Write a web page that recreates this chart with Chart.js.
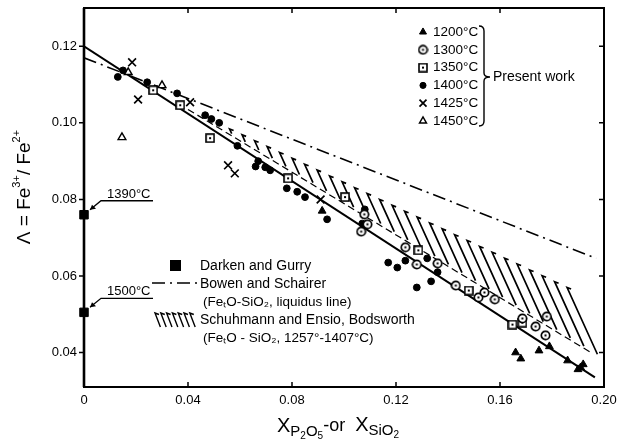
<!DOCTYPE html>
<html>
<head>
<meta charset="utf-8">
<script src="https://cdn.jsdelivr.net/npm/chart.js@4/dist/chart.umd.min.js"></script>
<style>
  body { margin: 0; background: #fff; }
  canvas { display: block; }
</style>
</head>
<body>
<canvas id="chart" width="625" height="444"></canvas>
<script>
// axis ticks
const xTicks = [0, 0.04, 0.08, 0.12, 0.16, 0.20]
const xTickLabels = ['0', '0.04', '0.08', '0.12', '0.16', '0.20']
const yTicks = [0.04, 0.06, 0.08, 0.10, 0.12]
const yTickLabels = ['0.04', '0.06', '0.08', '0.10', '0.12']

// present work, by temperature
const x1200 = [0.0916, 0.166, 0.168, 0.175, 0.179, 0.186, 0.190, 0.191, 0.192]
const y1200 = [0.0770, 0.0400, 0.0384, 0.0405, 0.0416, 0.0379, 0.0356, 0.0361, 0.0369]

const x1300 = [0.1078, 0.109, 0.1066, 0.1236, 0.128, 0.136, 0.143, 0.1517, 0.154, 0.158, 0.1686, 0.1737, 0.178, 0.1775]
const y1300 = [0.0761, 0.0735, 0.0716, 0.0675, 0.0630, 0.0633, 0.0575, 0.0544, 0.0557, 0.0539, 0.0489, 0.0468, 0.0494, 0.0445]

const x1350 = [0.0266, 0.037, 0.0485, 0.0785, 0.1004, 0.1286, 0.148, 0.1648, 0.1686]
const y1350 = [0.1085, 0.1046, 0.0960, 0.0855, 0.0806, 0.0667, 0.0562, 0.0473, 0.0478]

const x1400 = [0.013, 0.015, 0.0243, 0.0358, 0.0466, 0.049, 0.052, 0.059, 0.066, 0.067, 0.0697, 0.0716, 0.078, 0.082, 0.085, 0.0935, 0.108, 0.107, 0.117, 0.1205, 0.1236, 0.128, 0.132, 0.1335, 0.136]
const y1400 = [0.1120, 0.1137, 0.1106, 0.1077, 0.1020, 0.1010, 0.1000, 0.0940, 0.0886, 0.0900, 0.0884, 0.0876, 0.0829, 0.0820, 0.0806, 0.0748, 0.0774, 0.0737, 0.0635, 0.0622, 0.0640, 0.0570, 0.0646, 0.0586, 0.0610]

const x1425 = [0.0185, 0.0208, 0.0408, 0.0554, 0.058, 0.091]
const y1425 = [0.1158, 0.1061, 0.1054, 0.0889, 0.0868, 0.0800]

const x1450 = [0.0146, 0.017, 0.030]
const y1450 = [0.0962, 0.1132, 0.1098]

// Darken and Gurry (FeO, no P2O5 / SiO2)
const xDarken = [0, 0]
const yDarken = [0.0760, 0.0505]
const darkenTemps = ['1390°C', '1500°C']

// fitted line through present work
const xFit = [0, 0.1965]
const yFit = [0.120, 0.0335]

// Bowen and Schairer, liquidus line
const xBowen = [0, 0.197]
const yBowen = [0.117, 0.0646]

// Schuhmann and Ensio / Bodsworth band
const xBandTop = [0.040, 0.192]
const yBandTop = [0.1035, 0.055]
const xBandLow = [0.040, 0.195]
const yBandLow = [0.1035, 0.040]

const pts = (xs, ys) => xs.map((x, i) => ({ x: x, y: ys[i] }))

const FONT = '"Liberation Sans", Arial, sans-serif'

// circle / square with a dot in the middle
function ringDot() {
	const c = document.createElement('canvas')
	c.width = 11
	c.height = 11
	const g = c.getContext('2d')
	g.fillStyle = '#fff'
	g.strokeStyle = '#000'
	g.lineWidth = 1.7
	g.beginPath()
	g.arc(5.5, 5.5, 4.2, 0, Math.PI * 2)
	g.fill()
	g.stroke()
	g.fillStyle = '#000'
	g.fillRect(4.5, 4.5, 2, 2)
	return c
}

function boxDot() {
	const c = document.createElement('canvas')
	c.width = 10
	c.height = 10
	const g = c.getContext('2d')
	g.fillStyle = '#fff'
	g.fillRect(1, 1, 8, 8)
	g.strokeStyle = '#000'
	g.lineWidth = 1.6
	g.strokeRect(1, 1, 8, 8)
	g.fillStyle = '#000'
	g.fillRect(4, 4, 2, 2)
	return c
}

const ring = ringDot()
const box = boxDot()

const series = [
	{ label: '1200°C', style: { pointStyle: 'triangle', radius: 4.5, borderWidth: 1, fill: '#000' } },
	{ label: '1300°C', style: { pointStyle: ring, radius: 5, borderWidth: 1, fill: '#fff' } },
	{ label: '1350°C', style: { pointStyle: box, radius: 5, borderWidth: 1, fill: '#fff' } },
	{ label: '1400°C', style: { pointStyle: 'circle', radius: 3.4, borderWidth: 1, fill: '#000' } },
	{ label: '1425°C', style: { pointStyle: 'crossRot', radius: 5.5, borderWidth: 1.7, fill: '#000' } },
	{ label: '1450°C', style: { pointStyle: 'triangle', radius: 4.5, borderWidth: 1.4, fill: '#fff' } },
]

function markSet(data, s) {
	return {
		data: data,
		pointStyle: s.style.pointStyle,
		pointRadius: s.style.radius,
		pointBorderWidth: s.style.borderWidth,
		pointBackgroundColor: s.style.fill,
		pointBorderColor: '#000',
		showLine: false,
		order: 0,
	}
}

const datasets = [
	{ data: pts(xBandLow, yBandLow), showLine: true, pointRadius: 0, borderWidth: 1.2, borderColor: '#000', borderDash: [7, 4], fill: false, order: 5 },
	{ data: pts(xBowen, yBowen), showLine: true, pointRadius: 0, borderWidth: 1.6, borderColor: '#000', borderDash: [13, 5, 2, 5], fill: false, order: 4 },
	{ data: pts(xFit, yFit), showLine: true, pointRadius: 0, borderWidth: 2, borderColor: '#000', fill: false, order: 3 },
	markSet(pts(x1200, y1200), series[0]),
	markSet(pts(x1300, y1300), series[1]),
	markSet(pts(x1350, y1350), series[2]),
	markSet(pts(x1400, y1400), series[3]),
	markSet(pts(x1425, y1425), series[4]),
	markSet(pts(x1450, y1450), series[5]),
	{ data: pts(xDarken, yDarken), pointStyle: 'rect', pointRadius: 6, pointBackgroundColor: '#000', pointBorderColor: '#000', showLine: false, clip: false, order: 0 },
]

// hatch strokes "\" hanging from an upper edge down to a lower edge (both as [x1, y1, x2, y2] in pixels)
function hatchBetween(ctx, up, low, x0, x1, step, slope, gapLow) {
	const k1 = (up[3] - up[1]) / (up[2] - up[0])
	const k2 = (low[3] - low[1]) / (low[2] - low[0])
	for (let x = x0; x <= x1; x += step) {
		const px = x
		const py = up[1] + k1 * (x - up[0])
		// where the stroke meets the lower edge
		const qx = (low[1] - k2 * low[0] - py + slope * px) / (slope - k2)
		const ex = qx - gapLow / slope
		const ey = py + slope * (ex - px)
		if (ey <= py) continue
		ctx.beginPath()
		ctx.moveTo(px + 4, py + 1.5)
		ctx.lineTo(px, py)
		ctx.lineTo(ex, ey)
		ctx.stroke()
	}
}

const hatchBand = {
	id: 'hatchBand',
	beforeDatasetsDraw(chart) {
		const ctx = chart.ctx
		const xs = chart.scales.x
		const ys = chart.scales.y
		const up = [xs.getPixelForValue(xBandTop[0]), ys.getPixelForValue(yBandTop[0]), xs.getPixelForValue(xBandTop[1]), ys.getPixelForValue(yBandTop[1])]
		const low = [xs.getPixelForValue(xBandLow[0]), ys.getPixelForValue(yBandLow[0]), xs.getPixelForValue(xBandLow[1]), ys.getPixelForValue(yBandLow[1])]
		ctx.save()
		ctx.strokeStyle = '#000'
		ctx.lineWidth = 1.7
		hatchBetween(ctx, up, low, xs.getPixelForValue(0.056), xs.getPixelForValue(0.186), 12.5, 2.2, 3)
		ctx.restore()
	},
}

// text pieces drawn one after another with their own size and shift
function drawRuns(ctx, runs, x, y) {
	for (const r of runs) {
		ctx.font = r.size + 'px ' + FONT
		ctx.fillText(r.t, x, y + (r.dy || 0))
		x += ctx.measureText(r.t).width
	}
	return x
}

function runsWidth(ctx, runs) {
	let w = 0
	for (const r of runs) {
		ctx.font = r.size + 'px ' + FONT
		w += ctx.measureText(r.t).width
	}
	return w
}

const decor = {
	id: 'decor',
	afterDraw(chart) {
		const ctx = chart.ctx
		const a = chart.chartArea
		const xs = chart.scales.x
		const ys = chart.scales.y
		ctx.save()
		ctx.strokeStyle = '#000'
		ctx.fillStyle = '#000'

		// frame
		ctx.lineWidth = 2
		ctx.strokeRect(a.left, a.top, a.right - a.left, a.bottom - a.top)
		ctx.lineWidth = 2.6
		ctx.beginPath()
		ctx.moveTo(a.left, a.top)
		ctx.lineTo(a.left, a.bottom)
		ctx.stroke()

		// tick marks
		ctx.lineWidth = 1.5
		ctx.beginPath()
		xTicks.slice(1, -1).forEach((v) => {
			const px = xs.getPixelForValue(v)
			ctx.moveTo(px, a.bottom)
			ctx.lineTo(px, a.bottom - 5)
			ctx.moveTo(px, a.top)
			ctx.lineTo(px, a.top + 5)
		})
		yTicks.forEach((v) => {
			const py = ys.getPixelForValue(v)
			ctx.moveTo(a.left, py)
			ctx.lineTo(a.left - 5, py)
			ctx.moveTo(a.right, py)
			ctx.lineTo(a.right - 5, py)
		})
		ctx.stroke()

		// y axis title
		ctx.save()
		ctx.translate(25, 187)
		ctx.rotate(-Math.PI / 2)
		const yRuns = [
			{ t: 'Λ = Fe', size: 19 },
			{ t: '3+', size: 11, dy: -8 },
			{ t: '/ Fe', size: 19 },
			{ t: '2+', size: 11, dy: -8 },
		]
		ctx.textBaseline = 'middle'
		drawRuns(ctx, yRuns, -runsWidth(ctx, yRuns) / 2, 0)
		ctx.restore()

		// x axis title
		ctx.textBaseline = 'alphabetic'
		drawRuns(ctx, [
			{ t: 'X', size: 20 },
			{ t: 'P', size: 15, dy: 4 },
			{ t: '2', size: 10, dy: 7 },
			{ t: 'O', size: 15, dy: 4 },
			{ t: '5', size: 10, dy: 7 },
			{ t: '-or  ', size: 18, dy: -1 },
			{ t: 'X', size: 20, dy: -1 },
			{ t: 'SiO', size: 15, dy: 3 },
			{ t: '2', size: 10, dy: 6 },
		], 277, 432)

		// temperature notes on the Darken and Gurry points
		ctx.lineWidth = 1.3
		xDarken.forEach((v, i) => {
			const px = xs.getPixelForValue(v) + 6
			const py = ys.getPixelForValue(yDarken[i]) - 5
			const ux = px + 11
			const uy = py - 9
			ctx.beginPath()
			ctx.moveTo(px, py)
			ctx.lineTo(ux, uy)
			ctx.lineTo(ux + 52, uy)
			ctx.stroke()
			ctx.beginPath()
			ctx.moveTo(px, py)
			ctx.lineTo(px + 6, py - 1)
			ctx.lineTo(px + 2, py - 5)
			ctx.closePath()
			ctx.fill()
			ctx.font = '13px ' + FONT
			ctx.textBaseline = 'alphabetic'
			ctx.fillText(darkenTemps[i], ux + 6, uy - 3)
		})

		// present work key
		ctx.textBaseline = 'middle'
		series.forEach((s, i) => {
			const ly = 32 + i * 17.8
			ctx.fillStyle = s.style.fill
			ctx.strokeStyle = '#000'
			ctx.lineWidth = s.style.borderWidth
			Chart.helpers.drawPoint(ctx, { pointStyle: s.style.pointStyle, radius: s.style.radius * 0.9, borderWidth: s.style.borderWidth, rotation: 0 }, 423, ly)
			ctx.fillStyle = '#000'
			ctx.font = '13.5px ' + FONT
			ctx.fillText(s.label, 433, ly)
		})
		// brace
		ctx.lineWidth = 1.4
		ctx.beginPath()
		ctx.moveTo(479, 26)
		ctx.quadraticCurveTo(484, 26, 484, 31)
		ctx.lineTo(484, 73)
		ctx.quadraticCurveTo(484, 77, 490, 77)
		ctx.moveTo(484, 81)
		ctx.quadraticCurveTo(484, 77, 490, 77)
		ctx.moveTo(484, 81)
		ctx.lineTo(484, 121)
		ctx.quadraticCurveTo(484, 126, 479, 126)
		ctx.stroke()
		ctx.font = '14px ' + FONT
		ctx.fillText('Present work', 493, 77)

		// other sources key
		ctx.fillRect(170, 260, 11, 11)
		ctx.lineWidth = 1.6
		ctx.setLineDash([13, 5, 2, 5])
		ctx.beginPath()
		ctx.moveTo(152, 283)
		ctx.lineTo(200, 283)
		ctx.stroke()
		ctx.setLineDash([])
		ctx.lineWidth = 1.4
		hatchBetween(ctx, [153, 313, 199, 313], [150, 327, 199, 327], 155, 195, 5.8, 2.6, 0)
		ctx.font = '14px ' + FONT
		ctx.fillText('Darken and Gurry', 200, 266)
		ctx.fillText('Bowen and Schairer', 200, 284)
		ctx.fillText('Schuhmann and Ensio, Bodsworth', 200, 320)
		ctx.font = '13.5px ' + FONT
		ctx.fillText('(FeₜO-SiO₂, liquidus line)', 203, 302)
		ctx.fillText('(FeₜO - SiO₂, 1257°-1407°C)', 203, 338)

		ctx.restore()
	},
}

new Chart(document.getElementById('chart'), {
	type: 'scatter',
	data: { datasets: datasets },
	options: {
		responsive: false,
		animation: false,
		devicePixelRatio: 1,
		layout: { padding: { left: 0, right: 21, top: 8, bottom: 0 } },
		plugins: {
			legend: { display: false },
			tooltip: { enabled: false },
		},
		scales: {
			x: {
				type: 'linear',
				min: 0,
				max: 0.2,
				afterBuildTicks: (scale) => {
					scale.ticks = xTicks.map((v) => ({ value: v }))
				},
				afterFit: (scale) => {
					scale.height = 57
					scale.paddingLeft = 0
					scale.paddingRight = 0
				},
				grid: { display: false, drawTicks: false },
				border: { display: false },
				ticks: {
					padding: 6,
					color: '#000',
					font: { family: FONT, size: 13 },
					maxRotation: 0,
					callback: (v, i) => xTickLabels[i],
				},
			},
			y: {
				type: 'linear',
				min: 0.031,
				max: 0.13,
				afterBuildTicks: (scale) => {
					scale.ticks = yTicks.map((v) => ({ value: v }))
				},
				afterFit: (scale) => {
					scale.width = 84
					scale.paddingTop = 0
					scale.paddingBottom = 0
				},
				grid: { display: false, drawTicks: false },
				border: { display: false },
				ticks: {
					padding: 7,
					color: '#000',
					font: { family: FONT, size: 13 },
					callback: (v, i) => yTickLabels[i],
				},
			},
		},
	},
	plugins: [hatchBand, decor],
})
</script>
</body>
</html>
